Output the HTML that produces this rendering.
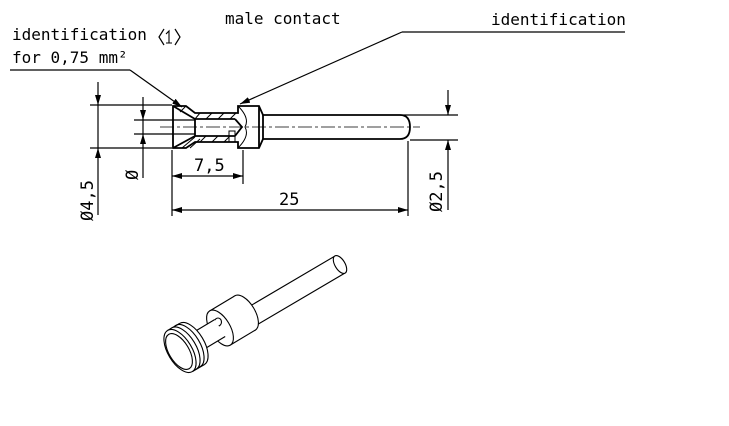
<!DOCTYPE html>
<html><head><style>
html,body{margin:0;padding:0;background:#fff;width:729px;height:426px;overflow:hidden}
svg{display:block}
text{font-family:"DejaVu Sans Mono","Liberation Mono",monospace;fill:#000}
</style></head><body>
<svg width="729" height="426" viewBox="0 0 729 426" xmlns="http://www.w3.org/2000/svg">
<defs>
<marker id="a" markerWidth="10" markerHeight="6" refX="10" refY="3" orient="auto" markerUnits="userSpaceOnUse"><path d="M0,0 L10,3 L0,6z" fill="#000"/></marker>
</defs>
<text x="12" y="40" font-size="16">identification</text>
<text x="12" y="63" font-size="16">for 0,75 mm²</text>
<text x="225" y="24" font-size="16">male contact</text>
<text x="491" y="25" font-size="16">identification</text>
<g stroke="#000" fill="none" stroke-width="1.2">
<path d="M164,29 l-5,8 l5,8 M175,29 l5,8 l-5,8"/>
<path d="M166,34 l3,-3 v12 M166,43 h6" stroke-width="1.1"/>
<line x1="10" y1="70" x2="130" y2="70"/>
<line x1="130" y1="70" x2="182" y2="107" marker-end="url(#a)"/>
<line x1="625" y1="32" x2="402" y2="32"/>
<line x1="402" y1="32" x2="240" y2="104" marker-end="url(#a)"/>
<g stroke-width="1.8">
<path d="M173,106 H186 L195,113 H238 V106 H259 L263,115 H400 Q410,115 410,127 Q410,139 400,139 H263 L259,148 H238 V142 H195 L186,148 H173 Z"/>
<path d="M173,106 L195,119 V136 L173,148"/>
<path d="M195,119 H235 M195,136 H235 M235,119 L242,127 L235,136"/>
<line x1="259" y1="106" x2="259" y2="148"/>
<line x1="263" y1="115" x2="263" y2="139"/>
</g>
<g stroke-width="1">
<path d="M200,113 l-5,6 M212,113 l-6,6 M224,113 l-6,6 M236,113 l-6,6 M206,136 l-6,6 M218,136 l-6,6 M230,136 l-6,6 M190,148 l10,-9 M182,148 l13,-11 M186,106 l-6,6"/>
<path d="M238,106 Q250,118 245,127 Q250,136 238,148"/>
<rect x="229" y="131" width="6" height="11"/>
</g>
<line x1="160" y1="127" x2="420" y2="127" stroke-dasharray="14,3,3,3" stroke-width="0.8"/>
<line x1="90" y1="105" x2="172" y2="105"/>
<line x1="90" y1="148" x2="172" y2="148"/>
<line x1="98" y1="82" x2="98" y2="105" marker-end="url(#a)"/>
<line x1="98" y1="215" x2="98" y2="148" marker-end="url(#a)"/>
<line x1="98" y1="105" x2="98" y2="148"/>
<line x1="134" y1="120" x2="195" y2="120"/>
<line x1="134" y1="134" x2="195" y2="134"/>
<line x1="143" y1="97" x2="143" y2="120" marker-end="url(#a)"/>
<line x1="143" y1="178" x2="143" y2="134" marker-end="url(#a)"/>
<line x1="143" y1="120" x2="143" y2="134"/>
<line x1="172" y1="150" x2="172" y2="216"/>
<line x1="243" y1="150" x2="243" y2="184"/>
<line x1="200" y1="176" x2="172" y2="176" marker-end="url(#a)"/>
<line x1="200" y1="176" x2="243" y2="176" marker-end="url(#a)"/>
<line x1="290" y1="210" x2="172" y2="210" marker-end="url(#a)"/>
<line x1="290" y1="210" x2="408" y2="210" marker-end="url(#a)"/>
<line x1="408" y1="141" x2="408" y2="216"/>
<line x1="400" y1="115" x2="458" y2="115"/>
<line x1="410" y1="140" x2="458" y2="140"/>
<line x1="448" y1="90" x2="448" y2="115" marker-end="url(#a)"/>
<line x1="448" y1="210" x2="448" y2="140" marker-end="url(#a)"/>
</g>
<text x="194" y="171" font-size="17">7,5</text>
<text x="279" y="205" font-size="17">25</text>
<text font-size="17" transform="translate(93,221) rotate(-90)">Ø4,5</text>
<text font-size="17" transform="translate(138,180) rotate(-90)">Ø</text>
<text font-size="17" transform="translate(442,212) rotate(-90)">Ø2,5</text>
<!-- isometric -->
<g stroke="#000" fill="#fff" stroke-width="1.1">
<!-- pin -->
<path d="M245,309 L335,256 L345,273 L255,326 Z"/>
<ellipse cx="340" cy="264.5" rx="10" ry="5" transform="rotate(59 340 264.5)"/>
<!-- collar -->
<ellipse cx="245" cy="313" rx="20" ry="10" transform="rotate(59 245 313)"/>
<path d="M234.6,296 L209.6,311 L230.4,345 L255.4,330 Z" stroke="none"/>
<line x1="234.6" y1="296" x2="209.6" y2="311"/>
<line x1="255.4" y1="330" x2="230.4" y2="345"/>
<ellipse cx="220" cy="328" rx="20" ry="10" transform="rotate(59 220 328)"/>
<ellipse cx="218" cy="322" rx="3.5" ry="4"/>
<!-- barrel -->
<path d="M214.8,319.5 L184.8,337.5 L195.2,354.5 L225.2,336.5 Z" stroke="none"/>
<line x1="214.8" y1="319.5" x2="184.8" y2="337.5"/>
<line x1="225.2" y1="336.5" x2="195.2" y2="354.5"/>
<!-- head -->
<ellipse cx="192" cy="344" rx="24" ry="12" transform="rotate(59 192 344)"/>
<path d="M179.5,323.5 L167.5,330.5 L192.5,371.5 L204.5,364.5 Z" stroke="none"/>
<line x1="179.5" y1="323.5" x2="167.5" y2="330.5"/>
<line x1="204.5" y1="364.5" x2="192.5" y2="371.5"/>
<ellipse cx="188" cy="346" rx="24" ry="12" transform="rotate(59 188 346)" fill="none"/>
<ellipse cx="184" cy="348.5" rx="24" ry="12" transform="rotate(59 184 348.5)"/>
<ellipse cx="180" cy="351" rx="24" ry="12" transform="rotate(59 180 351)"/>
<ellipse cx="179" cy="351.5" rx="20" ry="10" transform="rotate(59 179 351.5)" fill="none"/>
</g>
</svg>
</body></html>
